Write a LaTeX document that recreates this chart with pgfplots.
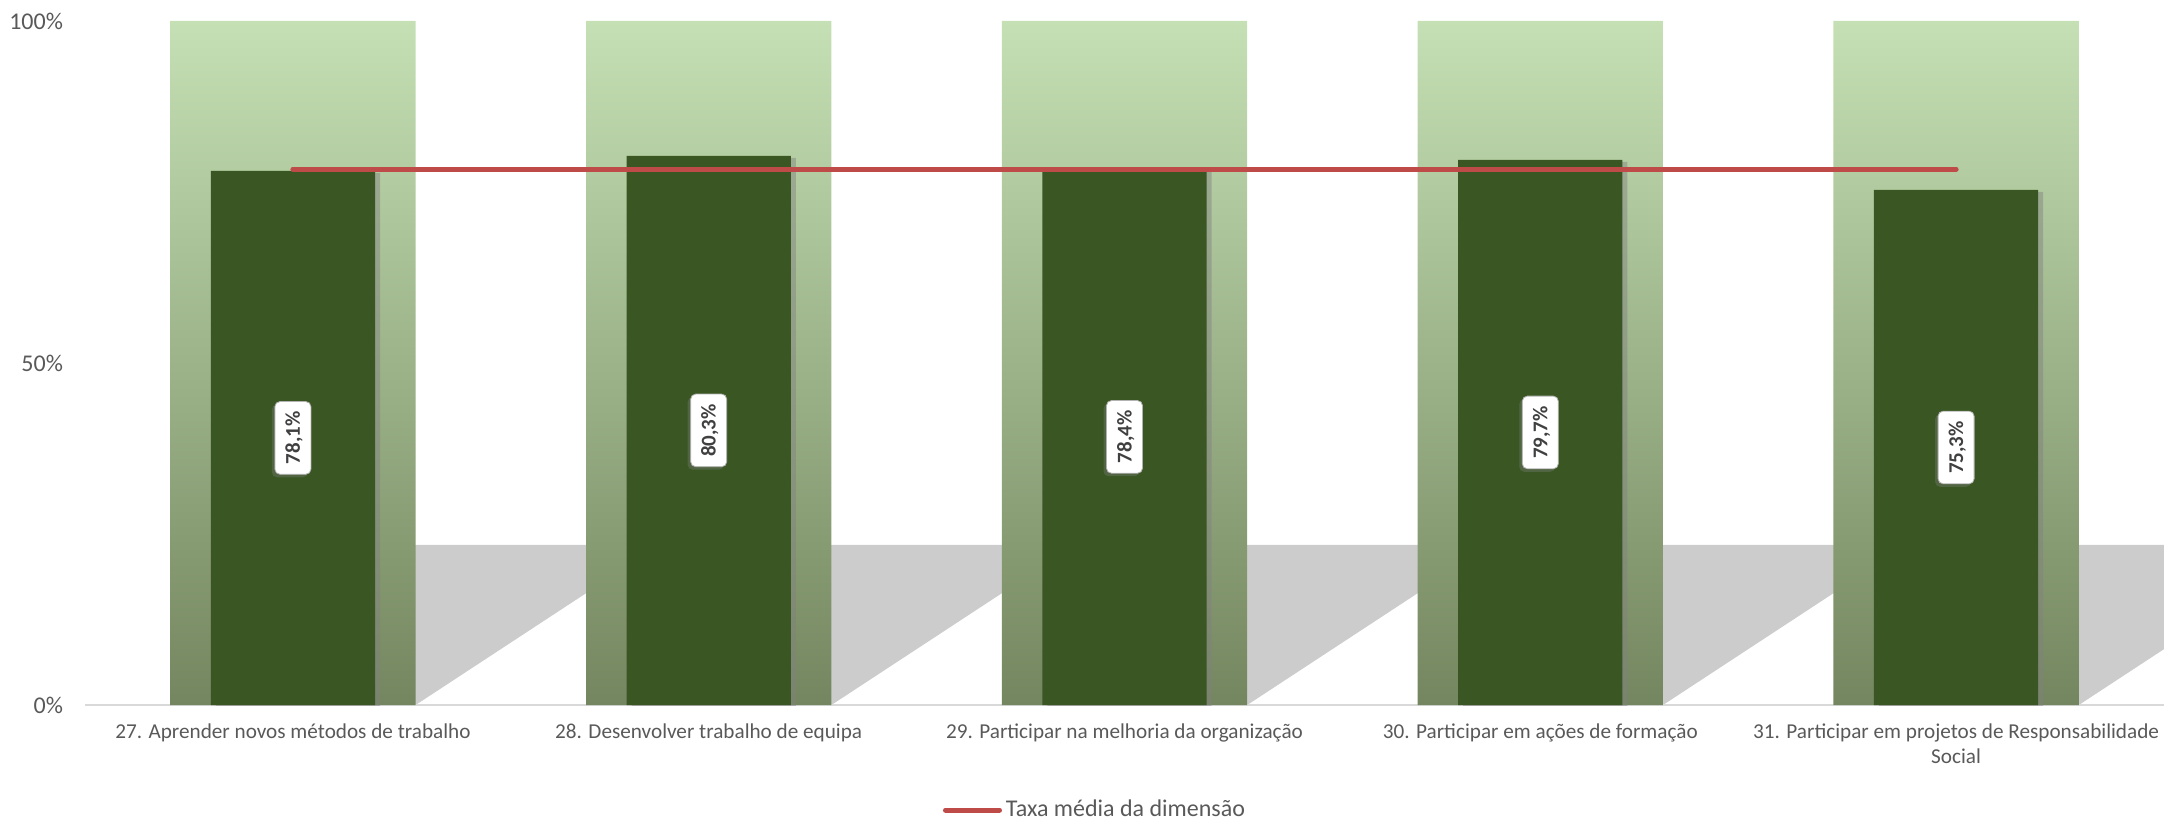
\documentclass[border=0pt]{standalone}
\usepackage{pgfplots}
\pgfplotsset{compat=1.18}
\usepackage{fontspec}
\setmainfont{Carlito}
\usetikzlibrary{shadows}
\definecolor{bgtop}{HTML}{C5E0B4}
\definecolor{bgbot}{HTML}{74865F}
\definecolor{darkbar}{HTML}{3A5723}
\definecolor{avgred}{HTML}{BE4B48}
\definecolor{txt}{HTML}{595959}
\definecolor{lbltxt}{HTML}{404040}
\definecolor{shadowgray}{HTML}{CCCCCC}
\definecolor{axisgray}{HTML}{D9D9D9}
\begin{document}
\begin{tikzpicture}
\begin{axis}[
  name=ax,
  scale only axis, width=1039.5pt, height=342pt,
  xmin=-0.5, xmax=4.5, ymin=0, ymax=100,
  axis line style={draw=none},
  tick style={draw=none},
  xtick={0,1,2,3,4},
  xticklabels={27. Aprender novos métodos de trabalho, 28. Desenvolver trabalho de equipa, 29. Participar na melhoria da organização, 30. Participar em ações de formação, {31. Participar em projetos de Responsabilidade\\Social}},
  ytick={0,50,100},
  yticklabels={0\%,50\%,100\%},
  xticklabel style={font=\fontsize{10.6}{12.5}\selectfont, text=txt, align=center, anchor=north, yshift=-6pt},
  yticklabel style={font=\fontsize{12}{14}\selectfont, text=txt, xshift=-7.5pt},
  legend style={at={(0.4863,-0.1535)}, anchor=center, draw=none, fill=none, font=\fontsize{12}{14}\selectfont, text=txt,
    /tikz/every even column/.append style={column sep=0pt}},
  legend image code/.code={\draw[#1] (0pt,0pt) -- (27pt,0pt);},
]
% floor shadows of the background columns
\addplot[fill=shadowgray, draw=none, forget plot] coordinates {(-0.295,0) (0.295,0) (0.882,23.4) (0.292,23.4)} -- cycle;
\addplot[fill=shadowgray, draw=none, forget plot] coordinates {(0.705,0) (1.295,0) (1.882,23.4) (1.292,23.4)} -- cycle;
\addplot[fill=shadowgray, draw=none, forget plot] coordinates {(1.705,0) (2.295,0) (2.882,23.4) (2.292,23.4)} -- cycle;
\addplot[fill=shadowgray, draw=none, forget plot] coordinates {(2.705,0) (3.295,0) (3.882,23.4) (3.292,23.4)} -- cycle;
\addplot[fill=shadowgray, draw=none, forget plot] coordinates {(3.705,0) (4.295,0) (4.882,23.4) (4.292,23.4)} -- cycle;
\draw[axisgray, line width=1pt] (rel axis cs:0,0) -- (rel axis cs:1,0);
% background 100% columns
\addplot[ybar, bar width=0.59, bar shift=0pt, draw=none, top color=bgtop, bottom color=bgbot, forget plot]
  coordinates {(0,100) (1,100) (2,100) (3,100) (4,100)};
% values
\addplot[ybar, bar width=0.395, bar shift=0pt, fill=darkbar, draw=none, forget plot,
  drop shadow={shadow xshift=2.5pt, shadow yshift=-1pt, opacity=0.45},
  point meta=explicit symbolic, nodes near coords,
  visualization depends on={rawy \as \rawy},
  every node near coord/.style={shift={(axis direction cs:0,-\rawy/2)}, rotate=90, anchor=center,
    fill=white, draw=gray!60, rounded corners=2.5pt, font=\bfseries\fontsize{10.5}{12.5}\selectfont,
    text=lbltxt, inner xsep=5pt, inner ysep=5.5pt, text height=7pt, text depth=0pt,
    drop shadow={shadow xshift=-1.5pt, shadow yshift=-1.5pt, opacity=0.35}}]
  coordinates {(0,78.1) [78,1\%] (1,80.3) [80,3\%] (2,78.4) [78,4\%] (3,79.7) [79,7\%] (4,75.3) [75,3\%]};
% average line
\addplot[avgred, line width=2.5pt, line cap=round] coordinates {(0,78.36) (4,78.36)};
\addlegendentry{Taxa média da dimensão}
\end{axis}
\pgfresetboundingbox
\path[use as bounding box] ([xshift=-42.5pt,yshift=-57.5pt]ax.south west) rectangle ([yshift=10.5pt]ax.north east);
\end{tikzpicture}
\end{document}
